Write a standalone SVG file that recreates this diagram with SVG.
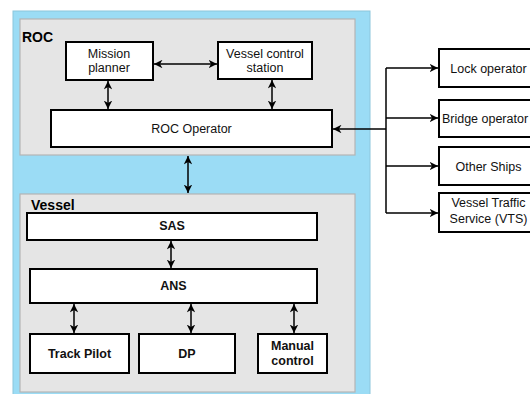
<svg xmlns="http://www.w3.org/2000/svg" width="530" height="394" viewBox="0 0 530 394">
<style>
.bg{fill:#fff}
.outer{fill:#9bdcf5;stroke:#8cc6dc;stroke-width:1}
.group{fill:#e5e5e5;stroke:#b4b4b4;stroke-width:1.2}
.box{fill:#fff;stroke:#000;stroke-width:2}
.t{font-family:"Liberation Sans",Arial,sans-serif;font-size:12.5px;fill:#111;text-anchor:middle}
.b{font-weight:bold}
.gl{font-family:"Liberation Sans",Arial,sans-serif;font-size:14px;font-weight:bold;fill:#000}
.c{fill:none;stroke:#000;stroke-width:1.5}
.ca{fill:none;stroke:#000;stroke-width:1.5;marker-end:url(#ah)}
.cb{fill:none;stroke:#000;stroke-width:1.5;marker-start:url(#ah);marker-end:url(#ah)}
</style>
<defs>
<marker id="ah" viewBox="0 0 10 10" refX="10" refY="5" markerWidth="8.5" markerHeight="8.5" markerUnits="userSpaceOnUse" orient="auto-start-reverse">
<path d="M0,0 L10,5 L0,10 L3,5 z" fill="#000"/>
</marker>
</defs>
<rect class="bg" x="0" y="0" width="530" height="394"/>
<rect class="outer" x="13" y="11" width="357" height="390"/>

<g id="roc-group">
<rect class="group" x="20" y="19" width="335" height="136"/>
<text class="gl" x="22" y="42">ROC</text>
</g>
<g id="vessel-group">
<rect class="group" x="20" y="194" width="335" height="198"/>
<text class="gl" x="31" y="210">Vessel</text>
</g>

<g id="mission-planner">
<rect class="box" x="66" y="42" width="87" height="38"/>
<text class="t" x="109" y="57.5">Mission</text>
<text class="t" x="109" y="71.5">planner</text>
</g>
<g id="vessel-control-station">
<rect class="box" x="218" y="42" width="94" height="37"/>
<text class="t" x="265" y="57.5">Vessel control</text>
<text class="t" x="265" y="71.5">station</text>
</g>
<g id="roc-operator">
<rect class="box" x="51" y="110" width="281" height="37"/>
<text class="t" x="191.5" y="133">ROC Operator</text>
</g>

<g id="sas">
<rect class="box" x="27" y="213" width="290" height="27"/>
<text class="t b" x="172" y="230">SAS</text>
</g>
<g id="ans">
<rect class="box" x="30" y="269" width="287" height="34"/>
<text class="t b" x="173.5" y="290">ANS</text>
</g>
<g id="track-pilot">
<rect class="box" x="30" y="334" width="99" height="39"/>
<text class="t b" x="79.5" y="358">Track Pilot</text>
</g>
<g id="dp">
<rect class="box" x="139" y="334" width="96" height="39"/>
<text class="t b" x="187" y="358">DP</text>
</g>
<g id="manual-control">
<rect class="box" x="258" y="334" width="69" height="39"/>
<text class="t b" x="292.5" y="350">Manual</text>
<text class="t b" x="292.5" y="365">control</text>
</g>

<g id="lock-operator">
<rect class="box" x="439" y="49" width="100" height="38"/>
<text class="t" x="488.5" y="72.5">Lock operator</text>
</g>
<g id="bridge-operator">
<rect class="box" x="439" y="100" width="100" height="37"/>
<text class="t" x="485" y="123">Bridge operator</text>
</g>
<g id="other-ships">
<rect class="box" x="439" y="147" width="100" height="38"/>
<text class="t" x="488.5" y="170.5">Other Ships</text>
</g>
<g id="vts">
<rect class="box" x="439" y="193" width="100" height="39"/>
<text class="t" x="488.5" y="207">Vessel Traffic</text>
<text class="t" x="488.5" y="222.5">Service (VTS)</text>
</g>

<g id="connectors">
<path class="cb" d="M154,64 H217"/>
<path class="cb" d="M108,81 V109"/>
<path class="cb" d="M272,80 V109"/>
<path class="cb" d="M188,156 V193"/>
<path class="cb" d="M171,241 V268"/>
<path class="cb" d="M74,304 V333"/>
<path class="cb" d="M191,304 V333"/>
<path class="cb" d="M294,304 V333"/>
<path class="ca" d="M386,129 H333"/>
<path class="c" d="M386,68 V213"/>
<path class="ca" d="M386,68 H438"/>
<path class="ca" d="M386,118 H438"/>
<path class="ca" d="M386,166 H438"/>
<path class="ca" d="M386,213 H438"/>
</g>
</svg>
